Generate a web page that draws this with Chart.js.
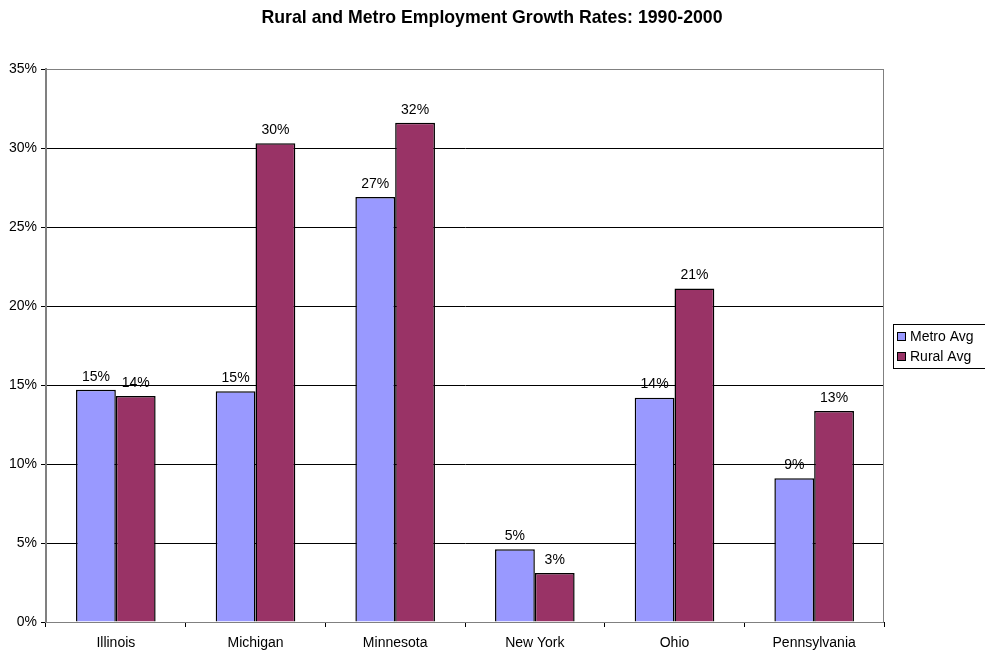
<!DOCTYPE html>
<html lang="en">
<head>
<meta charset="utf-8">
<title>Rural and Metro Employment Growth Rates</title>
<style>
html, body { margin: 0; padding: 0; background: #fff; }
.holder { width: 985px; height: 654px; }
</style>
</head>
<body>
<div class="holder"><canvas id="canvas" width="985" height="654"></canvas></div>
<script src="https://cdn.jsdelivr.net/npm/chart.js"></script>
<script>
// data (percent)
const states = ["Illinois", "Michigan", "Minnesota", "New York", "Ohio", "Pennsylvania"];
const metroAvg = [14.7, 14.6, 26.9, 4.6, 14.2, 9.1];
const ruralAvg = [14.3, 30.3, 31.6, 3.1, 21.1, 13.35];
const seriesNames = ["Metro Avg", "Rural Avg"];
const yTicks = [0, 5, 10, 15, 20, 25, 30, 35];
const chartTitle = "Rural and Metro Employment Growth Rates: 1990-2000";

const font = "Arial, 'Liberation Sans', sans-serif";

// title, plot border, value labels and the boxed legend
const extras = {
  id: "extras",
  beforeDatasetsDraw(chart) {
    const c = chart.ctx, a = chart.chartArea;
    c.save();
    c.strokeStyle = "#808080";
    c.lineWidth = 1;
    c.strokeRect(a.left + 0.5, a.top + 0.5, a.right - a.left - 1, a.bottom - a.top);
    c.restore();
  },
  afterDatasetsDraw(chart) {
    const c = chart.ctx;
    c.save();
    c.fillStyle = "#000";
    c.font = "bold 17.7px " + font;
    c.textAlign = "center";
    c.textBaseline = "middle";
    c.fillText(chartTitle, 492, 18);

    c.font = "14px " + font;
    c.textBaseline = "bottom";
    chart.data.datasets.forEach((ds, i) => {
      chart.getDatasetMeta(i).data.forEach((bar, j) => {
        c.fillText(Math.round(ds.data[j]) + "%", bar.x, bar.y - 6);
      });
    });

    // legend
    c.strokeStyle = "#000";
    c.lineWidth = 1;
    c.strokeRect(893.5, 324.5, 100, 44);
    c.textAlign = "left";
    c.textBaseline = "middle";
    chart.data.datasets.forEach((ds, i) => {
      const y = 336 + i * 20;
      c.fillStyle = ds.backgroundColor;
      c.fillRect(897, y - 4, 9, 9);
      c.strokeRect(897.5, y - 3.5, 8, 8);
      c.fillStyle = "#000";
      c.fillText(ds.label, 910, y + 1);
    });
    c.restore();
  }
};

const ctx = document.getElementById("canvas").getContext("2d");
let mychart = new Chart(ctx, {
  type: "bar",
  data: {
    labels: states,
    datasets: [
      { label: seriesNames[0], data: metroAvg, backgroundColor: "#9999FF", borderColor: "#000", borderWidth: 1.5 },
      { label: seriesNames[1], data: ruralAvg, backgroundColor: "#993366", borderColor: "#000", borderWidth: 1.5 }
    ]
  },
  options: {
    responsive: false,
    animation: false,
    events: [],
    layout: { padding: { top: 69, right: 101, left: 0, bottom: 0 } },
    plugins: { legend: { display: false }, title: { display: false }, tooltip: { enabled: false } },
    datasets: { bar: { categoryPercentage: 0.57, barPercentage: 1 } },
    scales: {
      x: {
        grid: { offset: true, drawOnChartArea: false, color: "#000", tickLength: 5 },
        border: { color: "#000" },
        ticks: { color: "#000", font: { family: font, size: 14 }, padding: 8 },
        afterFit(s) { s.height = 32; }
      },
      y: {
        min: 0, max: 35,
        afterBuildTicks(s) { s.ticks = yTicks.map(v => ({ value: v })); },
        grid: { color: "#000", tickLength: 5 },
        border: { color: "#808080", width: 2 },
        ticks: { color: "#000", font: { family: font, size: 14 }, padding: 4, callback: v => v + "%" },
        afterFit(s) { s.width = 46; }
      }
    }
  },
  plugins: [extras]
});
</script>
</body>
</html>
